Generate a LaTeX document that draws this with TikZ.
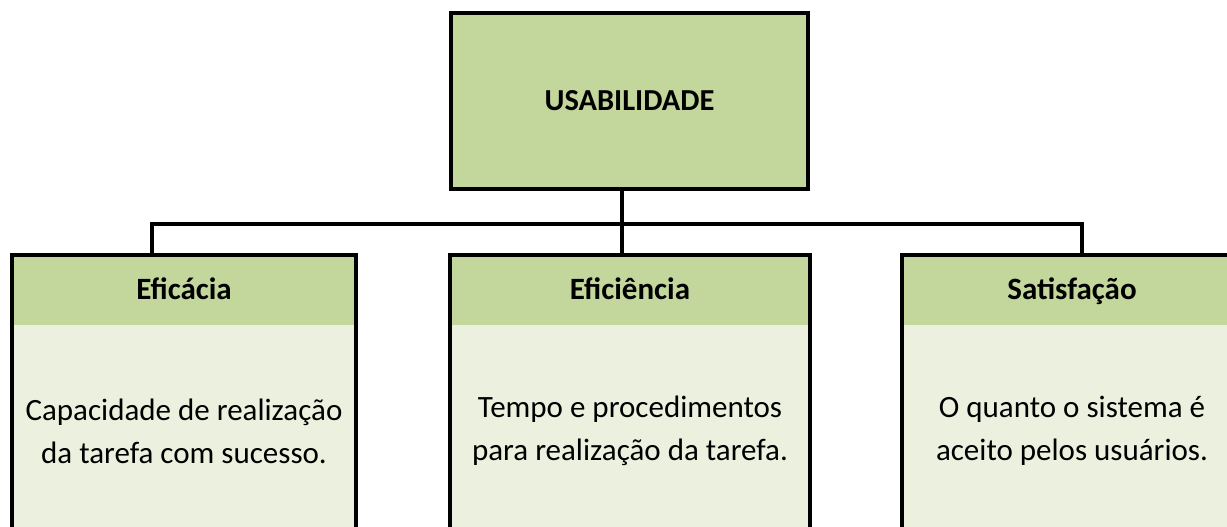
\documentclass[tikz,border=0pt]{standalone}
\usepackage{fontspec}
\setmainfont{Carlito}
\definecolor{hdr}{HTML}{C3D69B}
\definecolor{bdy}{HTML}{EBF1DE}
\begin{document}
\begin{tikzpicture}[x=1pt,y=1pt,
  topbox/.style={draw=black,line width=4pt,fill=hdr,inner sep=0pt,minimum width=357pt,minimum height=176pt,font=\fontsize{30.5}{36}\selectfont\bfseries},
  hdrbox/.style={fill=hdr,inner sep=0pt,minimum height=70pt},
  ttl/.style={inner sep=0pt,anchor=base,font=\fontsize{31}{36}\selectfont\bfseries},
  bdybox/.style={fill=bdy,inner sep=0pt,minimum height=235pt},
  txt/.style={align=center,inner sep=0pt,font=\fontsize{31}{43}\selectfont},
  frame/.style={draw=black,line width=4pt},
  conn/.style={draw=black,line width=4pt}]
\useasboundingbox (0,0) rectangle (1227,527);
\clip (0,0) rectangle (1227,527);
\fill[white] (0,0) rectangle (1227,527);
% top
\node[topbox] (top) at (629.5,426) {USABILIDADE};
% headers
\node[hdrbox,minimum width=344pt] (h1) at (184,237) {};
\node[hdrbox,minimum width=360pt] (h2) at (630,237) {};
\node[hdrbox,minimum width=340pt] (h3) at (1072,237) {};
\node[ttl] (n1) at (184,227) {Eficácia};
\node[ttl] (n2) at (630,227) {Eficiência};
\node[ttl] (n3) at (1072,227) {Satisfação};
% bodies
\node[bdybox,minimum width=344pt,anchor=north] (b1) at (h1.south) {};
\node[bdybox,minimum width=360pt,anchor=north] (b2) at (h2.south) {};
\node[bdybox,minimum width=340pt,anchor=north] (b3) at (h3.south) {};
% texts
\node[txt] (t1) at (184,96) {Capacidade de realização\\da tarefa com sucesso.};
\node[txt] (t2) at (630,96) {Tempo e procedimentos\\para realização da tarefa.};
\node[txt] (t3) at (1072,96) {O quanto o sistema é\\aceito pelos usuários.};
% frames
\draw[frame] (h1.north west) rectangle (b1.south east);
\draw[frame] (h2.north west) rectangle (b2.south east);
\draw[frame] (h3.north west) rectangle (b3.south east);
% connectors
\coordinate (c1) at (152,303);
\coordinate (cm) at (622,303);
\coordinate (c3) at (1082,303);
\draw[conn] (h1.north -| c1) -- (c1) -- (c3) -- (h3.north -| c3);
\draw[conn] (top.south -| cm) -- (h2.north -| cm);
\end{tikzpicture}
\end{document}
